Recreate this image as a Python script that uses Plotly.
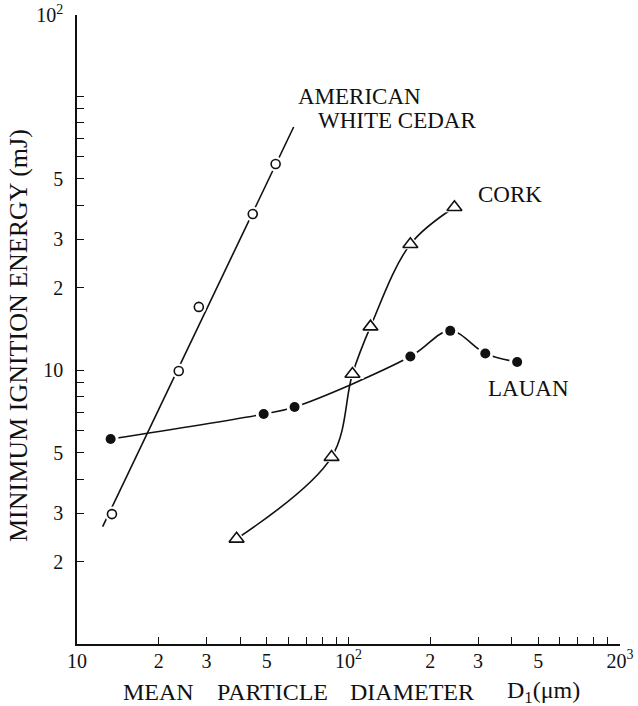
import plotly.graph_objects as go

# Mean particle diameter D1 (um) and minimum ignition energy (mJ)
cedar_d = [13.45, 23.7, 28.1, 44.4, 53.9]
cedar_e = [2.98, 9.92, 17.0, 37.1, 56.5]
# straight fitted line for american white cedar (end points)
cedar_fit_d = [12.43, 62.8]
cedar_fit_e = [2.68, 77.1]

cork_d = [38.7, 86.6, 103.4, 120.5, 169.0, 245.6]
cork_e = [2.42, 4.81, 9.67, 14.4, 28.8, 39.3]

lauan_d = [13.3, 48.7, 63.3, 169.0, 237.0, 319.0, 418.0]
lauan_e = [5.6, 6.91, 7.33, 11.2, 13.9, 11.5, 10.7]

# labelled ticks (the rest of the 1-9 grid is drawn as minor ticks)
x_tickvals = [10, 20, 30, 50, 100, 200, 300, 500, 1000]
x_ticktext = ["10", "2", "3", "5", "10<sup>2</sup>", "2", "3", "5", "20<sup>3</sup>"]

y_top = 197.7
y_tickvals = [2, 3, 5, 10, 20, 30, 50, y_top]
y_ticktext = ["2", "3", "5", "10", "2", "3", "5", "10<sup>2</sup>"]

W, H = 638, 706
ML, MR, MT, MB = 77, 18, 15, 62
PW, PH = W - ML - MR, H - MT - MB

SERIF = "Liberation Serif"
INK = "#111111"


def px(xp):
    return (xp - ML) / PW


def py(yp):
    return (H - MB - yp) / PH


fig = go.Figure()

# curves
fig.add_trace(go.Scatter(x=cedar_fit_d, y=cedar_fit_e, mode="lines",
                         line=dict(color=INK, width=1.6), hoverinfo="skip"))
fig.add_trace(go.Scatter(x=cork_d, y=cork_e, mode="lines",
                         line=dict(color=INK, width=1.6, shape="spline", smoothing=1.0),
                         hoverinfo="skip"))
fig.add_trace(go.Scatter(x=lauan_d, y=lauan_e, mode="lines",
                         line=dict(color=INK, width=1.6, shape="spline", smoothing=1.0),
                         hoverinfo="skip"))

# white halos so the curves break at each point
for xs, ys, sym, size in [(cedar_d, cedar_e, "circle", 15),
                          (cork_d, cork_e, "triangle-up", 20),
                          (lauan_d, lauan_e, "circle", 16)]:
    fig.add_trace(go.Scatter(x=xs, y=ys, mode="markers",
                             marker=dict(symbol=sym, size=size, color="white",
                                         line=dict(width=0)),
                             hoverinfo="skip"))

# markers
fig.add_trace(go.Scatter(x=cedar_d, y=cedar_e, mode="markers",
                         marker=dict(symbol="circle", size=9, color="white",
                                     line=dict(color=INK, width=1.6))))
fig.add_trace(go.Scatter(x=cork_d, y=cork_e, mode="markers",
                         marker=dict(symbol="triangle-up", size=13, color="white",
                                     line=dict(color=INK, width=1.6))))
fig.add_trace(go.Scatter(x=lauan_d, y=lauan_e, mode="markers",
                         marker=dict(symbol="circle", size=10, color=INK,
                                     line=dict(color=INK, width=0))))

axis_common = dict(type="log", showgrid=False, zeroline=False, showline=True,
                   linecolor=INK, linewidth=1.6, mirror=False,
                   ticks="inside", ticklen=7, tickwidth=1.4, tickcolor=INK,
                   tickmode="array",
                   tickfont=dict(family=SERIF, size=20, color=INK),
                   minor=dict(ticks="inside", ticklen=7, tickwidth=1.4,
                              tickcolor=INK, dtick="D1", showgrid=False))

fig.update_xaxes(range=[1, 3], tickvals=x_tickvals, ticktext=x_ticktext,
                 ticklabelstandoff=-2, **axis_common)
fig.update_yaxes(range=[0, 2.296], tickvals=y_tickvals, ticktext=y_ticktext,
                 ticklabelstandoff=8, **axis_common)

annotations = [
    dict(text="AMERICAN", x=px(296), y=py(96), xanchor="left", yanchor="middle",
         font=dict(size=23)),
    dict(text="WHITE CEDAR", x=px(316), y=py(120), xanchor="left", yanchor="middle",
         font=dict(size=23)),
    dict(text="CORK", x=px(476), y=py(194), xanchor="left", yanchor="middle",
         font=dict(size=23)),
    dict(text="LAUAN", x=px(486), y=py(389), xanchor="left", yanchor="middle",
         font=dict(size=23)),
    dict(text="MINIMUM IGNITION ENERGY (mJ)", x=px(18), y=py(336), xanchor="center",
         yanchor="middle", textangle=-90, font=dict(size=26)),
    dict(text="MEAN", x=px(121), y=py(692), xanchor="left", yanchor="middle",
         font=dict(size=24)),
    dict(text="PARTICLE", x=px(215), y=py(692), xanchor="left", yanchor="middle",
         font=dict(size=24)),
    dict(text="DIAMETER", x=px(348), y=py(692), xanchor="left", yanchor="middle",
         font=dict(size=24)),
    dict(text="D<sub>1</sub>(μm)", x=px(505), y=py(692), xanchor="left", yanchor="middle",
         font=dict(size=24)),
]
for a in annotations:
    a.update(xref="paper", yref="paper", showarrow=False)
    a["font"].update(family=SERIF, color=INK)

fig.update_layout(width=W, height=H, autosize=False,
                  margin=dict(l=ML, r=MR, t=MT, b=MB, autoexpand=False),
                  paper_bgcolor="white", plot_bgcolor="white",
                  showlegend=False, annotations=annotations)

fig.write_html("out.html")
